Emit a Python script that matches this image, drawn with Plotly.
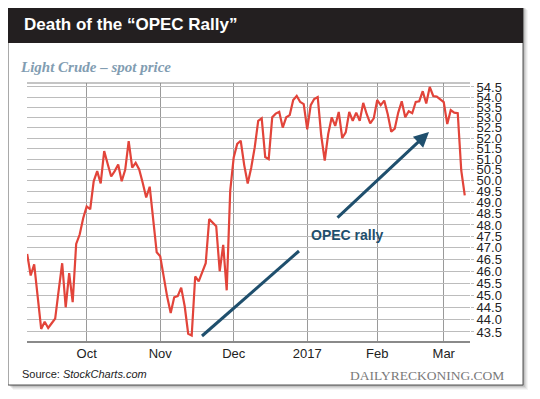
import math
import pandas as pd
import plotly.graph_objects as go

# ---------------- data ----------------
holidays = ["2016-11-24", "2016-12-26", "2017-01-02", "2017-01-16", "2017-02-20"]
dates = [d.strftime("%Y-%m-%d") for d in
         pd.bdate_range("2016-09-08", "2017-03-09", freq="C", holidays=holidays)]

price = [
    46.74, 45.82, 46.29, 44.93, 43.62, 43.91, 43.66, 43.85, 44.04, 45.20,
    46.34, 44.50, 45.92, 44.71, 47.17, 47.58, 48.30, 48.83, 48.70, 49.97,
    50.44, 49.87, 51.38, 50.77, 50.19, 50.44, 50.75, 49.97, 50.50, 51.85,
    50.60, 50.83, 50.52, 49.90, 49.23, 49.72, 48.09, 46.81, 46.64, 45.75,
    44.93, 44.27, 44.91, 44.96, 45.31, 44.54, 43.43, 43.36, 45.78, 45.57,
    45.96, 46.34, 48.26, 48.12, 47.95, 46.00, 47.13, 45.20, 49.53, 51.08,
    51.72, 51.87, 50.72, 49.87, 50.60, 51.55, 52.83, 52.95, 51.10, 51.00,
    53.00, 53.18, 53.27, 52.50, 53.00, 53.11, 53.85, 54.05, 53.75, 53.65,
    52.42, 53.60, 53.90, 54.00, 52.12, 50.93, 52.20, 53.00, 52.58, 53.26,
    52.00, 52.27, 53.26, 52.83, 53.23, 52.83, 53.71, 53.15, 52.70, 52.95,
    53.85, 53.60, 53.82, 53.15, 52.30, 52.45, 53.23, 53.79, 53.00, 53.30,
    53.20, 53.75, 53.79, 54.29, 53.68, 54.50, 54.05, 54.02, 53.90, 53.75,
    52.67, 53.35, 53.23, 53.20, 50.47, 49.33,
]

month_ticks = ["2016-10-03", "2016-11-01", "2016-12-01", "2017-01-03", "2017-02-01", "2017-03-01"]
month_labels = ["Oct", "Nov", "Dec", "2017", "Feb", "Mar"]
y_labels = ["43.5", "44.0", "44.5", "45.0", "45.5", "46.0", "46.5", "47.0", "47.5", "48.0",
            "48.5", "49.0", "49.5", "50.0", "50.5", "51.0", "51.5", "52.0", "52.5", "53.0",
            "53.5", "54.0", "54.5"]

# ---------------- layout helpers ----------------
# page offset: the html body has an 8px margin
OFF = 8
W, H = 540 - OFF, 399 - 2 * OFF
# plot area in page pixels
L, R, T, B = 27, 470, 83, 341


def fx(px):
    return (px - L) / (R - L)


def fy(py):
    return (B - py) / (B - T)


NAVY = "#1f4f6d"
RED = "#e2443a"

fig = go.Figure()
fig.add_trace(go.Scatter(x=dates, y=price, mode="lines",
                         line=dict(color=RED, width=2.2), hoverinfo="skip"))

shapes = []
# drop shadow of card
for k, a in [(5, 0.04), (4, 0.05), (3, 0.07), (2, 0.09), (1, 0.12)]:
    shapes.append(dict(type="rect", xref="paper", yref="paper", layer="below",
                       x0=fx(8 + k), x1=fx(523 + k), y0=fy(5 + k), y1=fy(385 + k),
                       fillcolor=f"rgba(0,0,0,{a})", line=dict(width=0)))
# card
shapes.append(dict(type="rect", xref="paper", yref="paper", layer="below",
                   x0=fx(8), x1=fx(523), y0=fy(5), y1=fy(385),
                   fillcolor="white", line=dict(color="#555555", width=1)))
# title bar
shapes.append(dict(type="rect", xref="paper", yref="paper", layer="below",
                   x0=fx(8), x1=fx(523), y0=fy(5), y1=fy(43),
                   fillcolor="#231f20", line=dict(width=0)))
# top border of plot
shapes.append(dict(type="line", xref="paper", yref="paper",
                   x0=0, x1=1, y0=1, y1=1, line=dict(color="#8a8a8a", width=1)))
# first rally line (no head)
shapes.append(dict(type="line", xref="paper", yref="paper",
                   x0=fx(202), y0=fy(336), x1=fx(299), y1=fy(251),
                   line=dict(color=NAVY, width=3)))

annotations = [
    dict(text="<b>Death of the “OPEC Rally”</b>", xref="paper", yref="paper",
         x=fx(22), y=fy(24), xanchor="left", yanchor="middle", showarrow=False,
         font=dict(family="Liberation Sans, Arial, sans-serif", size=17, color="white")),
    dict(text="<b><i>Light Crude – spot price</i></b>", xref="paper", yref="paper",
         x=fx(18), y=fy(67), xanchor="left", yanchor="middle", showarrow=False,
         font=dict(family="Liberation Serif, Georgia, serif", size=15, color="#829db2")),
    dict(text="Source: <i>StockCharts.com</i>", xref="paper", yref="paper",
         x=fx(20), y=fy(374), xanchor="left", yanchor="middle", showarrow=False,
         font=dict(family="Liberation Sans, Arial, sans-serif", size=11, color="#222222")),
    dict(text="DAILYRECKONING.COM", xref="paper", yref="paper",
         x=fx(506), y=fy(375), xanchor="right", yanchor="middle", showarrow=False,
         font=dict(family="Liberation Serif, Times New Roman, serif", size=13.5, color="#7a7a7a")),
    dict(text="<b>OPEC rally</b>", xref="paper", yref="paper",
         x=fx(347), y=fy(235), xanchor="center", yanchor="middle", showarrow=False,
         font=dict(family="Liberation Sans, Arial, sans-serif", size=14, color=NAVY)),
    dict(text="", xref="paper", yref="paper", x=fx(429), y=fy(132),
         ax=-93, ay=87, showarrow=True, arrowhead=2, arrowsize=1,
         arrowwidth=3, arrowcolor=NAVY),
]

fig.update_layout(
    width=W, height=H,
    margin=dict(l=L - OFF, r=W - (R - OFF), t=T - OFF, b=H - (B - OFF), pad=0),
    paper_bgcolor="white", plot_bgcolor="rgba(0,0,0,0)",
    showlegend=False,
    shapes=shapes, annotations=annotations,
    xaxis=dict(type="category", range=[-0.05, 126.5],
               tickmode="array", tickvals=month_ticks, ticktext=month_labels,
               showgrid=True, gridcolor="#9a9a9a", gridwidth=1,
               showline=True, linecolor="#8a8a8a", linewidth=1.5,
               ticks="", zeroline=False,
               tickfont=dict(family="Liberation Sans, Arial, sans-serif", size=13, color="#222222")),
    yaxis=dict(type="log", side="right",
               range=[math.log10(43.14), math.log10(54.70)],
               tickmode="array", tickvals=[float(v) for v in y_labels], ticktext=y_labels,
               showgrid=True, gridcolor="#bcbcbc", gridwidth=1,
               showline=False, zeroline=False, ticks="outside", ticklen=3, tickcolor="#bcbcbc",
               tickfont=dict(family="Liberation Sans, Arial, sans-serif", size=13, color="#222222")),
)

fig.write_html("out.html")
